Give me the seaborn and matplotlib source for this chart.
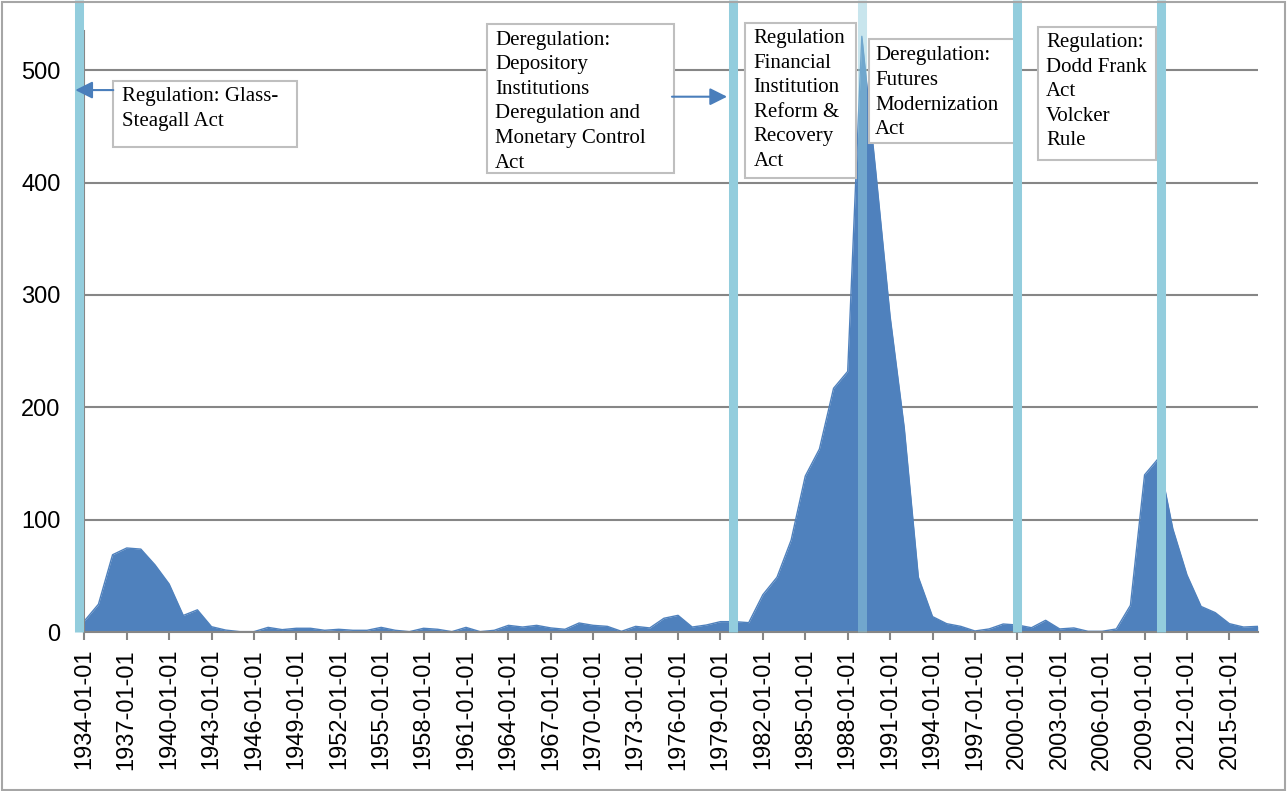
import matplotlib
matplotlib.use("Agg")
import matplotlib.pyplot as plt
import matplotlib.patches as mpatches
import pandas as pd
import seaborn as sns

# yearly values, 1934-2017
years = list(range(1934, 2018))
values = [
    10, 25, 69, 75, 74, 60,
    43, 15, 20, 5, 2, 0.6, 0.6, 4.4, 2.4, 3.6,
    3.6, 1.8, 2.7, 1.8, 1.8, 4.4, 1.8, 0.6, 3.6, 2.7,
    0.6, 4.4, 0.6, 1.8, 6.2, 4.7, 6.2, 3.9, 2.7, 8.3,
    6.2, 5.3, 0.9, 5.3, 3.9, 12.5, 15.1, 4.7, 6.5, 9.5,
    9.5, 8.6, 33.5, 49, 82, 139, 163, 217, 232, 530,
    408, 281, 182, 49, 14, 7.7, 5.3, 1.2, 3, 7.4,
    6.5, 4.1, 10.7, 3, 3.9, 0.9, 0.9, 3, 24, 140,
    155, 92, 51, 23, 17.5, 7.7, 4.7, 5.3,
]
tick_years = list(range(1934, 2016, 3))
tick_labels = [f"{y}-01-01" for y in tick_years]
y_ticks = [0, 100, 200, 300, 400, 500]

# regulation events (vertical markers)
event_years = [1933.63, 1979.86, 1989.0, 2000.0, 2010.13]
event_alpha = [1, 1, 0.5, 1, 1]

# annotation boxes: (x0, x1, y0, y1) in data units, text position, text
notes = [
    ((1936.05, 1949.03, 431.8, 490.2), (1936.67, 485.0),
     "Regulation: Glass-\nSteagall Act"),
    ((1962.52, 1975.73, 408.7, 540.6), (1963.07, 535.0),
     "Deregulation:\nDepository\nInstitutions\nDeregulation and\nMonetary Control\nAct"),
    ((1980.76, 1988.59, 403.7, 541.5), (1981.35, 536.5),
     "Regulation\nFinancial\nInstitution\nReform &\nRecovery\nAct"),
    ((1989.54, 2000.15, 435.4, 527.3), (1989.93, 521.0),
     "Deregulation:\nFutures\nModernization\nAct"),
    ((2001.45, 2009.82, 420.0, 538.5), (2002.04, 533.0),
     "Regulation:\nDodd Frank\nAct\nVolcker\nRule"),
]
arrows = [
    ((1936.05, 482.2), (1933.36, 482.2)),
    ((1975.57, 476.3), (1979.47, 476.3)),
]

df = pd.DataFrame({"year": years, "value": values})

sns.set_style("white")
plt.rcParams["font.family"] = ["Liberation Sans", "DejaVu Sans"]

fig = plt.figure(figsize=(12.87, 7.91), dpi=100)
ax = fig.add_axes([0.0655, 0.2006, 0.9117, 0.7606])

area_color = "#4F81BD"
ax.fill_between(df["year"], df["value"], 0, color=area_color, lw=0, zorder=2)
sns.lineplot(data=df, x="year", y="value", ax=ax, color=area_color, lw=1, zorder=2)

ax.set_xlim(1934, 2017)
ax.set_ylim(0, 535)
ax.set_xticks(tick_years)
ax.set_xticklabels(tick_labels, rotation=90, fontsize=17, color="black")
ax.set_yticks(y_ticks)
ax.set_yticklabels([str(v) for v in y_ticks], fontsize=17, color="black")
ax.set_xlabel("")
ax.set_ylabel("")

grid_c = "#868686"
ax.set_axisbelow(True)
ax.yaxis.grid(True, color=grid_c, lw=1.5)
ax.xaxis.grid(False)
for s in ["top", "right"]:
    ax.spines[s].set_visible(False)
for s in ["left", "bottom"]:
    ax.spines[s].set_color(grid_c)
    ax.spines[s].set_linewidth(1.5)
ax.tick_params(axis="x", direction="out", length=6, width=1.5, color=grid_c,
               pad=6, bottom=True)
ax.tick_params(axis="y", length=0, pad=17)

# event markers
for ev, a in zip(event_years, event_alpha):
    ax.vlines(ev, 0, 562, color="#93CDDD", lw=6.5, alpha=a, zorder=4,
              clip_on=False)

# annotation boxes
for (x0, x1, y0, y1), (tx, ty), txt in notes:
    ax.add_patch(mpatches.Rectangle((x0, y0), x1 - x0, y1 - y0,
                                    facecolor="white", edgecolor="#BFBFBF",
                                    lw=1.5, zorder=3, clip_on=False))
    ax.text(tx, ty, txt, ha="left", va="top", fontsize=15, color="black",
            family=["Liberation Serif", "DejaVu Serif"], linespacing=1.4,
            zorder=3.5, clip_on=False)

for tail, tip in arrows:
    ax.annotate("", xy=tip, xytext=tail,
                arrowprops=dict(arrowstyle="-|>", color="#4A7EBB", lw=1.5,
                                mutation_scale=26, shrinkA=0, shrinkB=0),
                zorder=5, annotation_clip=False)

# outer chart border
fig.patches.append(mpatches.Rectangle((0.0016, 0.0013), 0.9969, 0.996,
                                      transform=fig.transFigure, fill=False,
                                      edgecolor="#A6A6A6", lw=1.5, zorder=0))

fig.savefig("out.png", dpi=100)
